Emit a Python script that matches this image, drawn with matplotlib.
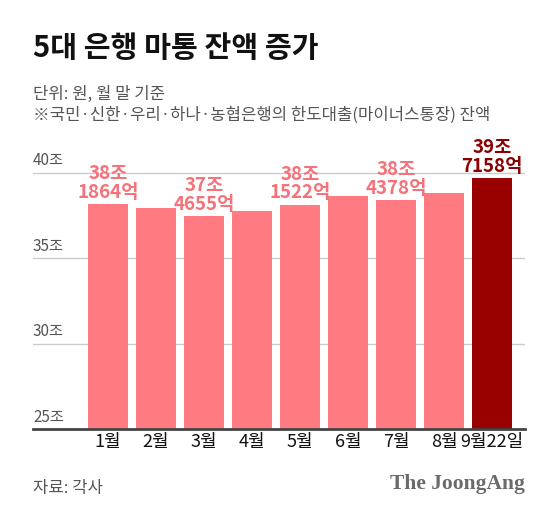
import matplotlib.pyplot as plt
import matplotlib.transforms as mtransforms

plt.rcParams['font.family'] = ['Noto Sans CJK KR', 'DejaVu Sans']

# 5대 은행 마이너스통장 잔액 (조원)
months = ['1월', '2월', '3월', '4월', '5월', '6월', '7월', '8월', '9월22일']
balance = [38.1864, 37.92, 37.4655, 37.75, 38.1522, 38.63, 38.4378, 38.84, 39.7158]
labeled = [True, False, True, False, True, False, True, False, True]
yticks = [25, 30, 35, 40]

W, H = 559, 515
fig = plt.figure(figsize=(W / 100, H / 100), dpi=100)
fig.patch.set_facecolor('white')

# axes placed in pixel terms of the reference
left, right, bottom, top = 33, 525, 429, 155.9
ax = fig.add_axes([left / W, 1 - bottom / H, (right - left) / W, (bottom - top) / H])

pink = '#ff7b81'
dark = '#990000'
colors = [pink] * (len(balance) - 1) + [dark]
x = list(range(len(balance)))
ax.bar(x, balance, width=0.833, color=colors, zorder=2)

ax.set_ylim(25, 41)
ax.set_xlim(-1.5625, 8.6875)

# gridlines + y labels sitting above them
for t in yticks:
    if t > 25:
        ax.axhline(t, color='#cccccc', lw=1, zorder=1)
ax.axhline(25, color='#444444', lw=2, zorder=3, clip_on=False)
trans = mtransforms.blended_transform_factory(ax.transAxes, ax.transData)
for t in yticks:
    ax.annotate(f'{t}조', xy=(0, t), xycoords=trans, xytext=(0, 2.5),
                textcoords='offset points', ha='left', va='bottom',
                fontsize=11, color='#555555')

# value labels
for i, (v, show) in enumerate(zip(balance, labeled)):
    if not show:
        continue
    jo = int(v)
    eok = round((v - jo) * 10000)
    last = i == len(balance) - 1
    ax.annotate(f'{jo}조\n{eok}억', xy=(i, v), xytext=(0, 1.5),
                textcoords='offset points', ha='center', va='bottom',
                fontsize=13.5, fontweight='bold',
                color='#8b0000' if last else '#f4727a',
                linespacing=0.98, annotation_clip=False)

ax.set_xticks(x)
ax.set_xticklabels(months, fontsize=13, color='#111111')
ax.tick_params(axis='x', length=0, pad=3)
ax.set_yticks([])
for s in ax.spines.values():
    s.set_visible(False)

# header and footer
fig.text(33 / W, 1 - 48 / H, '5대 은행 마통 잔액 증가', fontsize=21, fontweight='heavy',
         color='#111111', va='center', ha='left')
fig.text(33 / W, 1 - 94 / H, '단위: 원, 월 말 기준', fontsize=12,
         color='#555555', va='center', ha='left')
fig.text(33 / W, 1 - 115 / H, '※국민·신한·우리·하나·농협은행의 한도대출(마이너스통장) 잔액',
         fontsize=12, color='#555555', va='center', ha='left')
fig.text(33 / W, 1 - 489 / H, '자료: 각사', fontsize=12, color='#555555',
         va='center', ha='left')
fig.text(525 / W, 1 - 484 / H, 'The JoongAng', fontsize=15.5, fontweight='bold',
         family='Liberation Serif', color='#6b6b6b', va='center', ha='right')

fig.savefig('out.png', dpi=100)
